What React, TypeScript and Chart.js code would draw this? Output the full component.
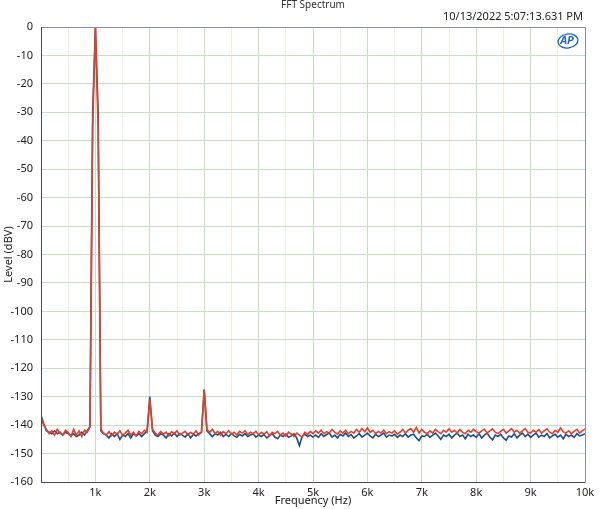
import React, { useEffect, useRef } from "react";
import { Chart, registerables } from "chart.js";

Chart.register(...registerables);

// FFT bin frequencies (Hz), 50 Hz resolution, 0..10 kHz
const binStepHz = 50;
const binCount = 201;
const freqs: number[] = Array.from({ length: binCount }, (_, i) => i * binStepHz);

// Channel 1 (blue) levels, dBV
const blueLevels: number[] = [
  -136.5, -139.5, -142, -142.5, -143, -142, -143, -142.5, -143.5, -142.5,
  -143, -143.8, -143, -144, -143.5, -142.5, -143.5, -142, -140.5, -30,
  0, -30, -142, -143, -143.5, -144.5, -143, -144, -143, -145,
  -143.5, -144, -143, -144.5, -143, -143.8, -143, -144, -143, -142,
  -130, -142, -143.5, -144, -143, -143.5, -144.5, -143, -143.8, -142.8,
  -144, -143, -143.5, -144.2, -143, -144.5, -143.2, -143.8, -143, -142.5,
  -127.5, -142, -143, -144, -143, -143.5, -142.5, -144, -143.2, -144,
  -143, -143.8, -144.3, -143.2, -143.8, -143, -144, -143.5, -143, -144.2,
  -143.5, -144, -143.3, -144.5, -143.8, -143, -144.2, -144.8, -143.5, -144,
  -143.2, -144.3, -143.8, -143, -144.5, -147.2, -144, -143.2, -144, -143.5,
  -144.2, -143.5, -144.3, -143, -144, -143.3, -142.8, -144.2, -143.5, -144.5,
  -143.2, -143.8, -142.8, -144, -143.3, -144.5, -143.8, -143, -144.2, -143.5,
  -142.8, -143.8, -144.5, -143.2, -144, -143.5, -142.8, -144.2, -143.5, -143.8,
  -143.2, -144.3, -143.5, -144, -143, -144.2, -143.5, -143.2, -144.5, -145.5,
  -143.8, -144, -143.2, -144.3, -143.5, -142.8, -143.8, -145, -143.5, -144,
  -143.2, -144.5, -143.5, -142.8, -144, -143.5, -144.8, -143.2, -144, -143.5,
  -144.3, -143, -144.5, -143.5, -142.8, -144.2, -145.2, -143.5, -144, -143.2,
  -144.5, -145.3, -143.8, -144.2, -143, -144.5, -143.5, -142.8, -144, -143.2,
  -144.3, -143.5, -142.8, -144.2, -143.5, -144, -143, -144.5, -143.8, -143.2,
  -144.2, -143.5, -144.8, -143.2, -144, -143.5, -144.3, -143, -143.8, -143.5,
  -143,
];

// Channel 2 (red) levels, dBV
const redLevels: number[] = [
  -137.5, -140, -141.5, -143, -142, -143.5, -141.5, -142.8, -143.5, -141.8,
  -142.5, -144, -141.5, -143.5, -142, -144, -141.8, -142.5, -140.5, -35,
  -0.3, -35, -141.5, -142.8, -143.5, -142.3, -143.8, -142.5, -143.2, -142,
  -143.5, -142.8, -141.8, -143.5, -142.5, -143.8, -142.2, -143, -141.8, -142.5,
  -131, -141.5, -142.8, -143.5, -142.2, -143.2, -142.5, -143.8, -142.3, -143,
  -142, -143.5, -142.8, -142.2, -143.5, -142.5, -143.2, -142, -143.5, -142.5,
  -127.5, -141.5, -142.5, -141.5, -143, -142.2, -143.5, -142.3, -143, -142,
  -143.2, -142.5, -143.5, -142.2, -142.8, -142, -143.3, -142.5, -143, -142.2,
  -143.5, -142.5, -143.2, -142.3, -143.8, -142.5, -143, -142.2, -143.5, -142.8,
  -143.8, -142.5, -143.2, -144, -142.8, -143.5, -144.2, -142.5, -143.3, -142.2,
  -143, -142, -142.8, -141.8, -143, -142.3, -142.8, -141.5, -142.5, -143.2,
  -142, -142.8, -141.8, -143, -142.2, -142.8, -141.5, -142.5, -141.2, -142.3,
  -141, -142.5, -141.8, -143, -142.2, -142.8, -141.8, -143, -142.3, -142.8,
  -142, -143.2, -142.5, -141.5, -142.8, -141.8, -141.2, -142.5, -140.8, -142.8,
  -141.5, -142.5, -143, -142, -142.8, -141.5, -142.3, -143, -141.8, -142.5,
  -141.3, -142.5, -141.8, -142.8, -141.5, -142.5, -143, -141.8, -142.5, -141.5,
  -142.3, -142.8, -142, -141.5, -142.8, -142, -141.3, -142.5, -143, -142.2,
  -141.5, -142.8, -142, -141.2, -142.5, -141.8, -142.8, -142, -141.2, -142.5,
  -142.8, -141.8, -142.5, -141.5, -142.8, -142, -141.3, -142.5, -143, -141.8,
  -142.5, -141, -142.3, -142.8, -142, -143, -142.2, -141.5, -142.8, -142,
  -141.3,
];

const yTickMin = -160;
const yTickMax = 0;
const yTickStep = 10;
const xMin = 0;
const xMax = 10000;
const xMinorStep = 500;

const chartTitle = "FFT Spectrum";
const timestamp = "10/13/2022 5:07:13.631 PM";
const xAxisTitle = "Frequency (Hz)";
const yAxisTitle = "Level (dBV)";
const logoText = "AP";

const FONT = "'Noto Sans', 'Open Sans', sans-serif";

const decorPlugin = {
  id: "decor",
  afterDraw(chart: any) {
    const { ctx, chartArea } = chart;
    const { left, right, top, bottom } = chartArea;
    ctx.save();
    // frame
    ctx.lineWidth = 1;
    ctx.strokeStyle = "#8c8cb4";
    ctx.beginPath();
    ctx.moveTo(left, top + 0.5);
    ctx.lineTo(right + 0.5, top + 0.5);
    ctx.lineTo(right + 0.5, bottom);
    ctx.stroke();
    ctx.strokeStyle = "#45456e";
    ctx.beginPath();
    ctx.moveTo(left + 0.5, top);
    ctx.lineTo(left + 0.5, bottom + 0.5);
    ctx.lineTo(right + 0.5, bottom + 0.5);
    ctx.stroke();

    const cx = (left + right) / 2;
    // title
    ctx.fillStyle = "#333";
    ctx.font = `10px ${FONT}`;
    ctx.textAlign = "center";
    ctx.textBaseline = "middle";
    ctx.fillText(chartTitle, cx, 5);
    // timestamp
    ctx.font = `11px ${FONT}`;
    ctx.textAlign = "right";
    ctx.fillStyle = "#222";
    ctx.fillText(timestamp, right - 2, 17);
    // axis titles
    ctx.textAlign = "center";
    ctx.font = `11px ${FONT}`;
    ctx.fillText(xAxisTitle, cx, 501);
    ctx.save();
    ctx.translate(9, (top + bottom) / 2);
    ctx.rotate(-Math.PI / 2);
    ctx.fillText(yAxisTitle, 0, 0);
    ctx.restore();
    // logo
    ctx.strokeStyle = "#1f66c8";
    ctx.lineWidth = 1.3;
    ctx.beginPath();
    ctx.ellipse(right - 17, top + 14, 10, 7, -0.15, 0, Math.PI * 2);
    ctx.stroke();
    ctx.fillStyle = "#1f66c8";
    ctx.font = `italic bold 11px ${FONT}`;
    ctx.fillText(logoText, right - 18, top + 14);
    ctx.restore();
  },
};

export default function App() {
  const canvasRef = useRef<HTMLCanvasElement | null>(null);

  useEffect(() => {
    document.body.style.margin = "0";
    const canvas = canvasRef.current;
    if (!canvas) return;
    const chart = new Chart(canvas, {
      type: "line",
      data: {
        datasets: [
          {
            label: "Ch1",
            data: freqs.map((f, i) => ({ x: f, y: blueLevels[i] })),
            borderColor: "#1d4f85",
            borderWidth: 1.6,
            pointRadius: 0,
            tension: 0,
            order: 2,
          },
          {
            label: "Ch2",
            data: freqs.map((f, i) => ({ x: f, y: redLevels[i] })),
            borderColor: "#e53f2a",
            borderWidth: 1.6,
            pointRadius: 0,
            tension: 0,
            order: 1,
          },
        ],
      },
      options: {
        animation: false,
        responsive: false,
        maintainAspectRatio: false,
        layout: { padding: { left: 0, top: 27, right: 15, bottom: 0 } },
        plugins: {
          legend: { display: false },
          tooltip: { enabled: false },
          title: { display: false },
        },
        scales: {
          x: {
            type: "linear",
            min: xMin,
            max: xMax,
            afterFit: (s: any) => {
              s.height = 27;
            },
            border: { display: false },
            grid: {
              drawTicks: false,
              color: (c: any) =>
                c.tick && c.tick.value % 1000 === 0 ? "#c6e0c6" : "#f6ede4",
            },
            ticks: {
              stepSize: xMinorStep,
              autoSkip: false,
              maxRotation: 0,
              padding: 4,
              color: "#222",
              font: { family: FONT, size: 11 },
              callback: (v: any) =>
                v % 1000 === 0 && v !== 0 ? `${v / 1000}k` : "",
            },
          },
          y: {
            min: yTickMin,
            max: yTickMax,
            afterFit: (s: any) => {
              s.width = 41;
            },
            border: { display: false },
            grid: { drawTicks: false, color: "#c6e0c6" },
            ticks: {
              stepSize: yTickStep,
              padding: 8,
              color: "#222",
              font: { family: FONT, size: 11 },
            },
          },
        },
      },
      plugins: [decorPlugin],
    });
    return () => chart.destroy();
  }, []);

  return (
    <div style={{ width: 600, height: 509, background: "#fff" }}>
      <canvas ref={canvasRef} width={600} height={509} style={{ display: "block" }} />
    </div>
  );
}
